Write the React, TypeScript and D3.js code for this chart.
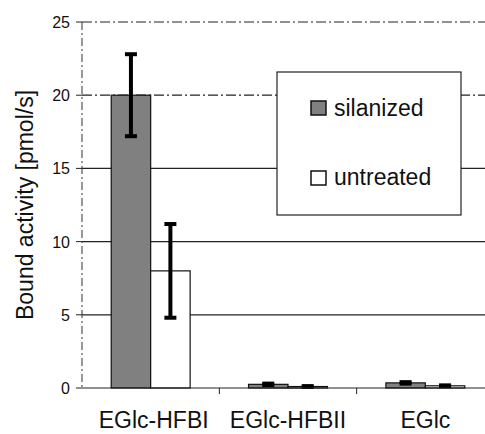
import React from "react";
import * as d3 from "d3";

const categories = ["EGlc-HFBI", "EGlc-HFBII", "EGlc"];
const seriesNames = ["silanized", "untreated"];
const silanized = [20, 0.25, 0.35];
const untreated = [8, 0.1, 0.15];
const silanizedErr = [2.8, 0.05, 0.05];
const untreatedErr = [3.2, 0.03, 0.03];
const yTicks = [0, 5, 10, 15, 20, 25];

const W = 485, H = 434;
const left = 82, right = 494, top = 22, bottom = 388;
const font = "Liberation Sans, Arial, sans-serif";

export default function App() {
  const y = d3.scaleLinear().domain([0, 25]).range([bottom, top]);
  const x0 = d3.scaleBand().domain(categories).range([left, right]).paddingInner(0).paddingOuter(0);
  const x1 = d3.scaleBand().domain(seriesNames).range([0, x0.bandwidth()]).paddingOuter(0.74).paddingInner(0);
  const fills = ["#808080", "#ffffff"];
  const vals = [silanized, untreated];
  const errs = [silanizedErr, untreatedErr];
  return (
    <svg width={W} height={H} style={{ position: "absolute", left: 0, top: 0 }}>
      <rect width={W} height={H} fill="#fff" />
      {yTicks.map((t) => (
        <g key={t}>
          {t > 0 && (
            <line x1={left} x2={right} y1={y(t)} y2={y(t)} stroke="#222" strokeWidth={1.2}
              strokeDasharray={t >= 20 ? "10 3 2 3" : undefined} />
          )}
          <line x1={left - 6} x2={left} y1={y(t)} y2={y(t)} stroke="#222" strokeWidth={1} />
          <text x={70} y={y(t) + 6} textAnchor="end" fontFamily={font} fontSize={16} fill="#111">{t}</text>
        </g>
      ))}
      <line x1={left} x2={left} y1={top} y2={bottom} stroke="#333" strokeWidth={1} strokeDasharray="8 3 2 3" />
      {categories.map((c, i) => (
        <g key={c}>
          {seriesNames.map((s, j) => {
            const bx = x0(c)! + x1(s)!;
            const bw = x1.bandwidth();
            const v = vals[j][i];
            const e = errs[j][i];
            const cx = bx + bw / 2;
            return (
              <g key={s}>
                <rect x={bx} y={y(v)} width={bw} height={y(0) - y(v)} fill={fills[j]} stroke="#111" strokeWidth={1.2} />
                <line x1={cx} x2={cx} y1={y(v + e)} y2={y(v - e)} stroke="#000" strokeWidth={4} />
                <line x1={cx - 6} x2={cx + 6} y1={y(v + e)} y2={y(v + e)} stroke="#000" strokeWidth={4} />
                <line x1={cx - 6} x2={cx + 6} y1={y(v - e)} y2={y(v - e)} stroke="#000" strokeWidth={4} />
              </g>
            );
          })}
          <text x={x0(c)! + x0.bandwidth() / 2 + (i === 0 ? 3 : 0)} y={428} textAnchor="middle" fontFamily={font} fontSize={23} fill="#111">{c}</text>
          {i > 0 && <line x1={x0(c)!} x2={x0(c)!} y1={bottom} y2={bottom + 6} stroke="#222" strokeWidth={1} />}
        </g>
      ))}
      <line x1={left} x2={right} y1={bottom} y2={bottom} stroke="#222" strokeWidth={1.2} />
      <text transform={`translate(33, 205) rotate(-90)`} textAnchor="middle" fontFamily={font} fontSize={23} fill="#111">
        Bound activity [pmol/s]
      </text>
      <rect x={277} y={72} width={184} height={143} fill="#fff" stroke="#222" strokeWidth={1.2} />
      {seriesNames.map((s, j) => (
        <g key={s}>
          <rect x={311} y={[101, 171][j]} width={15} height={14} fill={fills[j]} stroke="#111" strokeWidth={1.5} />
          <text x={334} y={[116, 185][j]} fontFamily={font} fontSize={23} fill="#111">{s}</text>
        </g>
      ))}
    </svg>
  );
}
